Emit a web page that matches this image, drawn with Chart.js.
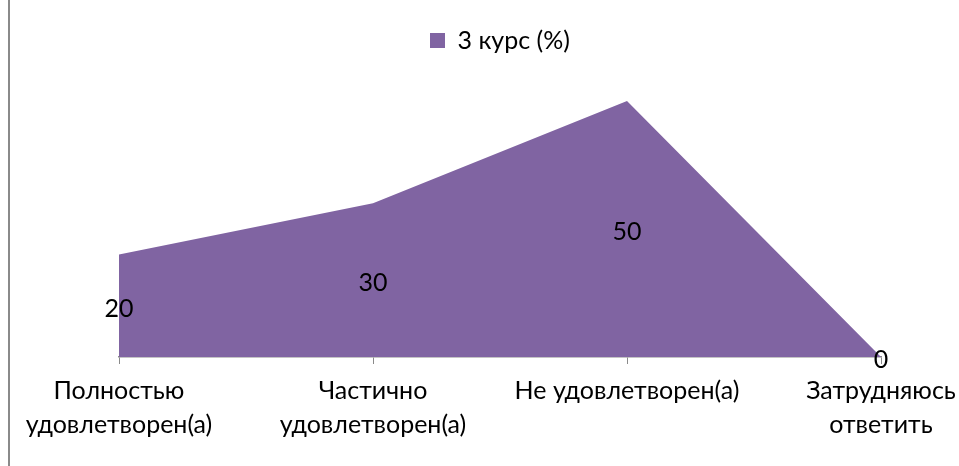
<!DOCTYPE html>
<html>
<head>
<meta charset="utf-8">
<script src="https://cdn.jsdelivr.net/npm/chart.js@4/dist/chart.umd.min.js"></script>
<style>
  html, body { margin: 0; padding: 0; background: #fff; }
  #wrap { position: relative; width: 959px; height: 466px; overflow: hidden; }
  #border { position: absolute; left: 8px; top: 0; width: 2px; height: 466px; background: #8a8a8a; }
  canvas { position: absolute; left: 0; top: 0; }
</style>
</head>
<body>
<div id="wrap">
  <canvas id="c" width="959" height="466"></canvas>
  <div id="border"></div>
</div>
<script>
const categories = [
  ["Полностью", "удовлетворен(а)"],
  ["Частично", "удовлетворен(а)"],
  "Не удовлетворен(а)",
  ["Затрудняюсь", "ответить"]
];
const seriesName = "3 курс (%)";
const seriesValues = [20, 30, 50, 0];

const FONT = "Lato, 'Open Sans', sans-serif";
const FS = 25;

const dataLabels = {
  id: "dataLabels",
  afterDatasetsDraw(chart) {
    const ctx = chart.ctx;
    const meta = chart.getDatasetMeta(0);
    const yScale = chart.scales.y;
    const base = yScale.getPixelForValue(0);
    ctx.save();
    ctx.font = FS + "px " + FONT;
    ctx.fillStyle = "#000";
    ctx.textAlign = "center";
    ctx.textBaseline = "middle";
    meta.data.forEach((pt, i) => {
      const y = (pt.y + base) / 2 + 3;
      ctx.fillText(String(seriesValues[i]), pt.x, y);
    });
    ctx.restore();
  }
};

new Chart(document.getElementById("c"), {
  type: "line",
  data: {
    labels: categories,
    datasets: [{
      label: seriesName,
      data: seriesValues,
      fill: "origin",
      backgroundColor: "#8064A2",
      borderColor: "#8064A2",
      borderWidth: 0,
      pointRadius: 0,
      tension: 0
    }]
  },
  options: {
    responsive: false,
    animation: false,
    layout: { padding: { left: 119, right: 78, top: 23, bottom: 14 } },
    plugins: {
      legend: {
        display: true,
        position: "top",
        labels: {
          font: { family: FONT, size: FS },
          color: "#000",
          boxWidth: 15,
          boxHeight: 15,
          padding: 5,
          generateLabels(chart) {
            return [{
              text: seriesName,
              fillStyle: "#8064A2",
              strokeStyle: "#8064A2",
              lineWidth: 0,
              hidden: false,
              datasetIndex: 0
            }];
          }
        }
      },
      tooltip: { enabled: false }
    },
    scales: {
      x: {
        offset: false,
        afterFit(scale) {
          scale.paddingLeft = 0;
          scale.paddingRight = 0;
        },
        grid: {
          display: true,
          drawOnChartArea: false,
          drawTicks: true,
          tickLength: 7,
          color: "#8a8a8a"
        },
        border: { display: true, color: "#8a8a8a", width: 1.5 },
        ticks: {
          font: { family: FONT, size: FS, lineHeight: 1.36 },
          color: "#000",
          maxRotation: 0,
          autoSkip: false,
          padding: 10
        }
      },
      y: {
        display: false,
        min: 0,
        max: 57.4
      }
    }
  },
  plugins: [dataLabels]
});
</script>
</body>
</html>
